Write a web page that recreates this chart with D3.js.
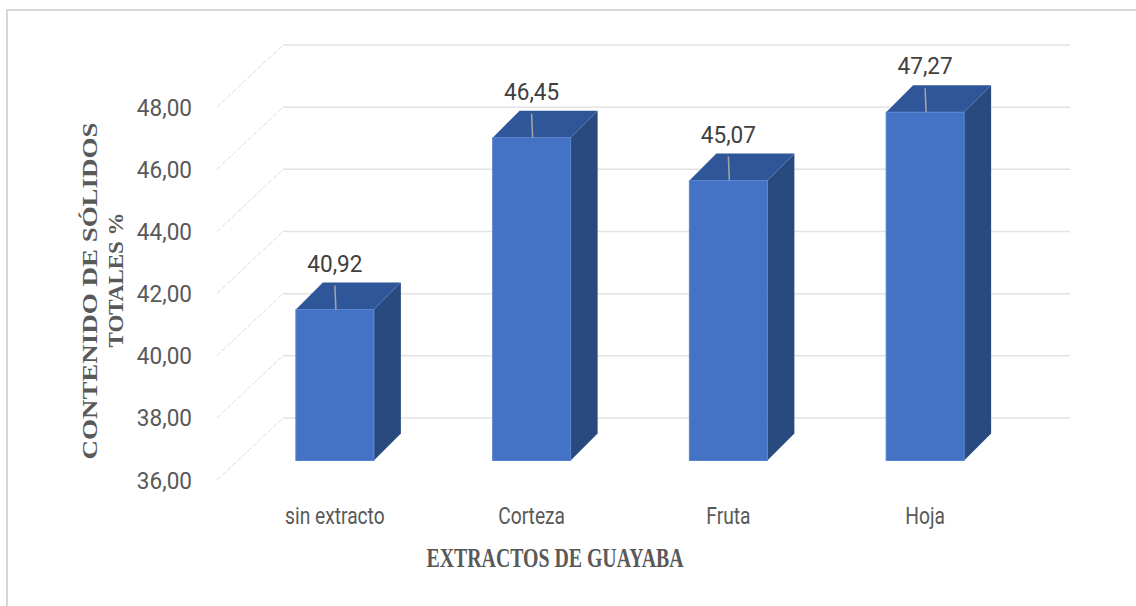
<!DOCTYPE html>
<html>
<head>
<meta charset="utf-8">
<script src="https://cdn.jsdelivr.net/npm/d3@7"></script>
<style>
  body { margin: 0; background: #fff; }
  svg { display: block; }
</style>
</head>
<body>
<svg id="chart" width="1136" height="606"></svg>
<script>
const categories = ['sin extracto', 'Corteza', 'Fruta', 'Hoja']
const values = [40.92, 46.45, 45.07, 47.27]
const yTicks = [36, 38, 40, 42, 44, 46, 48]

const width = 1136
const height = 606

// back wall of the 3d plot, front is shifted down-left by depth
const back = {left: 283, right: 1070, top: 45, bottom: 418}
const depth = {dx: 66, dy: 62}
const barDepth = 27
const barWidth = 78

const fmt = v => d3.format('.2f')(v).replace('.', ',')

const svg = d3.select('#chart')

svg.append('rect')
  .attr('x', 7).attr('y', 10)
  .attr('width', width).attr('height', height)
  .attr('fill', '#fff')
  .attr('stroke', '#d6d6d6')
  .attr('stroke-width', 2)

const y = d3.scaleLinear().domain([36, 48]).range([back.bottom, back.top])
const x = d3.scaleBand().domain(categories).range([back.left, back.right])

// gridlines on back wall
svg.append('g').selectAll('line')
  .data(yTicks)
  .join('line')
  .attr('x1', back.left).attr('x2', back.right)
  .attr('y1', d => y(d)).attr('y2', d => y(d))
  .attr('stroke', '#e2e2e2')
  .attr('stroke-width', 1.5)

// side wall diagonals
svg.append('g').selectAll('line')
  .data(yTicks)
  .join('line')
  .attr('x1', back.left - depth.dx).attr('x2', back.left)
  .attr('y1', d => y(d) + depth.dy).attr('y2', d => y(d))
  .attr('stroke', '#dcdcdc')
  .attr('stroke-width', 1)
  .attr('stroke-dasharray', '5,2')

// tick labels on the front plane
svg.append('g').selectAll('text')
  .data(yTicks)
  .join('text')
  .attr('transform', d => `translate(${back.left - depth.dx - 25},${y(d) + depth.dy}) scale(0.94,1)`)
  .attr('dy', '0.36em')
  .attr('text-anchor', 'end')
  .attr('font-family', 'Roboto, sans-serif')
  .attr('font-size', 24)
  .attr('fill', '#595959')
  .text(fmt)

// bars sit in the middle of the depth
const midDx = depth.dx / 2
const midDy = depth.dy / 2
const bars = categories.map((c, i) => {
  const cx = x(c) + x.bandwidth() / 2 - midDx - barDepth / 2
  const x0 = cx - barWidth / 2
  const x1 = cx + barWidth / 2
  const yTop = y(values[i]) + midDy + barDepth / 2
  const yBot = y(36) + midDy + barDepth / 2 - 2
  return {name: c, value: values[i], cx, x0, x1, yTop, yBot}
})

const g = svg.append('g')
g.selectAll('.side')
  .data(bars)
  .join('polygon')
  .attr('class', 'side')
  .attr('points', d => [
    [d.x1, d.yTop], [d.x1 + barDepth, d.yTop - barDepth],
    [d.x1 + barDepth, d.yBot - barDepth], [d.x1, d.yBot]
  ].join(' '))
  .attr('fill', '#294a7f')

g.selectAll('.top')
  .data(bars)
  .join('polygon')
  .attr('class', 'top')
  .attr('points', d => [
    [d.x0, d.yTop], [d.x0 + barDepth, d.yTop - barDepth],
    [d.x1 + barDepth, d.yTop - barDepth], [d.x1, d.yTop]
  ].join(' '))
  .attr('fill', '#30569a')

g.selectAll('.front')
  .data(bars)
  .join('rect')
  .attr('class', 'front')
  .attr('x', d => d.x0)
  .attr('y', d => d.yTop)
  .attr('width', barWidth)
  .attr('height', d => d.yBot - d.yTop)
  .attr('fill', '#4472c4')
  .attr('stroke', '#5a84cf')
  .attr('stroke-width', 1)

// data labels with leader lines
const labelGap = 38
g.selectAll('.leader')
  .data(bars)
  .join('line')
  .attr('class', 'leader')
  .attr('x1', d => d.cx).attr('x2', d => d.cx + 1)
  .attr('y1', d => d.yTop - labelGap + 14).attr('y2', d => d.yTop)
  .attr('stroke', '#a6a6a6')
  .attr('stroke-width', 1.5)

g.selectAll('.label')
  .data(bars)
  .join('text')
  .attr('class', 'label')
  .attr('transform', d => `translate(${d.cx},${d.yTop - labelGap}) scale(0.94,1)`)
  .attr('text-anchor', 'middle')
  .attr('font-family', 'Roboto, sans-serif')
  .attr('font-size', 24)
  .attr('fill', '#404040')
  .text(d => fmt(d.value))

// category labels, a bit condensed
svg.append('g').selectAll('text')
  .data(bars)
  .join('text')
  .attr('transform', d => `translate(${d.cx},524) scale(0.8,1)`)
  .attr('text-anchor', 'middle')
  .attr('font-family', 'Roboto, sans-serif')
  .attr('font-size', 24)
  .attr('fill', '#595959')
  .text(d => d.name)

// axis titles
svg.append('text')
  .attr('x', 555)
  .attr('y', 567)
  .attr('text-anchor', 'middle')
  .attr('font-family', '"Liberation Serif", "Times New Roman", serif')
  .attr('font-weight', 'bold')
  .attr('font-size', 27)
  .attr('fill', '#595959')
  .attr('textLength', 257)
  .attr('lengthAdjust', 'spacingAndGlyphs')
  .text('EXTRACTOS DE GUAYABA')

const yTitle = [
  {text: 'CONTENIDO DE SÓLIDOS', x: 97, y: 291, len: 337},
  {text: 'TOTALES %', x: 123, y: 280, len: 135}
]
svg.append('g').selectAll('text')
  .data(yTitle)
  .join('text')
  .attr('transform', d => `translate(${d.x},${d.y}) rotate(-90)`)
  .attr('text-anchor', 'middle')
  .attr('font-family', '"Liberation Serif", "Times New Roman", serif')
  .attr('font-weight', 'bold')
  .attr('font-size', 21)
  .attr('fill', '#595959')
  .attr('textLength', d => d.len)
  .attr('lengthAdjust', 'spacingAndGlyphs')
  .text(d => d.text)
</script>
</body>
</html>
